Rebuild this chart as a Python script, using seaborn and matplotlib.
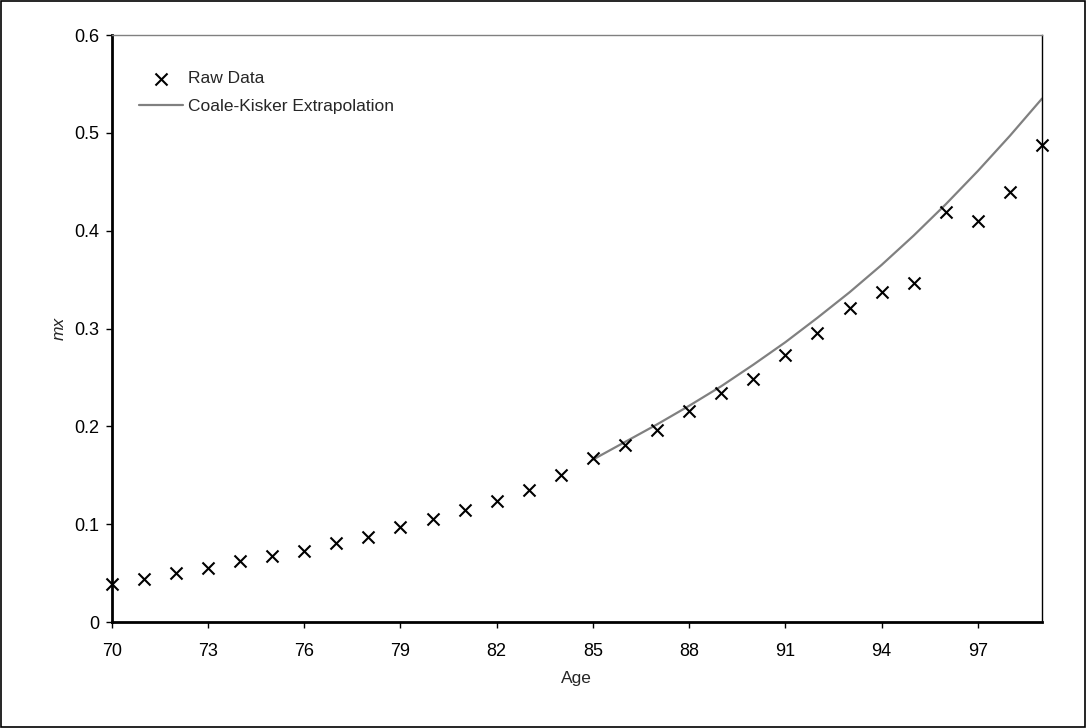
import matplotlib
matplotlib.use("Agg")
import matplotlib.pyplot as plt
import seaborn as sns
import pandas as pd
from matplotlib.patches import Rectangle

ages = list(range(70, 100))
raw_mx = [0.039, 0.044, 0.050, 0.055, 0.062, 0.067, 0.073, 0.081, 0.087, 0.097,
          0.105, 0.114, 0.124, 0.135, 0.150, 0.168, 0.181, 0.196, 0.216, 0.234,
          0.248, 0.273, 0.295, 0.321, 0.337, 0.347, 0.419, 0.410, 0.440, 0.488]
ck_ages = list(range(85, 100))
ck_mx = [0.166, 0.184, 0.202, 0.221, 0.241, 0.263, 0.286, 0.311, 0.337, 0.365,
         0.395, 0.427, 0.461, 0.497, 0.535]
x_ticks = [70, 73, 76, 79, 82, 85, 88, 91, 94, 97]
y_ticks = [0, 0.1, 0.2, 0.3, 0.4, 0.5, 0.6]

sns.set_theme(style="white")
plt.rcParams['font.family'] = ['Liberation Sans', 'DejaVu Sans']

fig = plt.figure(figsize=(10.87, 7.28), dpi=100)
ax = fig.add_axes([0.1028, 0.1456, 0.8558, 0.8063])

raw = pd.DataFrame({"Age": ages, "mx": raw_mx})
ck = pd.DataFrame({"Age": ck_ages, "mx": ck_mx})

sns.lineplot(data=ck, x="Age", y="mx", ax=ax, color="#808080", linewidth=1.6,
             label="Coale-Kisker Extrapolation", zorder=2)
sns.scatterplot(data=raw, x="Age", y="mx", ax=ax, marker="x", color="black",
                s=75, linewidth=1.5, label="Raw Data", zorder=3, clip_on=False)

ax.set_xlim(70, 99)
ax.set_ylim(0, 0.6)
ax.set_xticks(x_ticks)
ax.set_yticks(y_ticks)
ax.set_yticklabels(["0", "0.1", "0.2", "0.3", "0.4", "0.5", "0.6"])
ax.tick_params(axis="both", which="major", labelsize=13, colors="#000000",
               length=4, width=1, direction="out", bottom=True, left=True)
ax.tick_params(axis="x", pad=11)
ax.tick_params(axis="y", pad=5)
for t in ax.xaxis.get_ticklines() + ax.yaxis.get_ticklines():
    t.set_color("#808080")

for side in ["left", "bottom"]:
    ax.spines[side].set_color("black")
    ax.spines[side].set_linewidth(2)
ax.spines["right"].set_color("black")
ax.spines["right"].set_linewidth(1)
ax.spines["top"].set_color("#808080")
ax.spines["top"].set_linewidth(1)

ax.set_xlabel("Age", fontsize=12.5, labelpad=8)
ax.set_ylabel("mx", fontsize=12.5, style="italic", labelpad=5.5)

handles, labels = ax.get_legend_handles_labels()
order = [labels.index("Raw Data"), labels.index("Coale-Kisker Extrapolation")]
ax.legend([handles[i] for i in order], [labels[i] for i in order],
          loc="upper left", bbox_to_anchor=(0.013, 0.965), frameon=False,
          fontsize=12.5, handlelength=2.5, handletextpad=0.3, labelspacing=0.7)

fig.patches.append(Rectangle((0.0005, 0.0007), 0.998, 0.998, transform=fig.transFigure,
                             fill=False, edgecolor="black", linewidth=1.2))

fig.savefig("out.png", dpi=100)
